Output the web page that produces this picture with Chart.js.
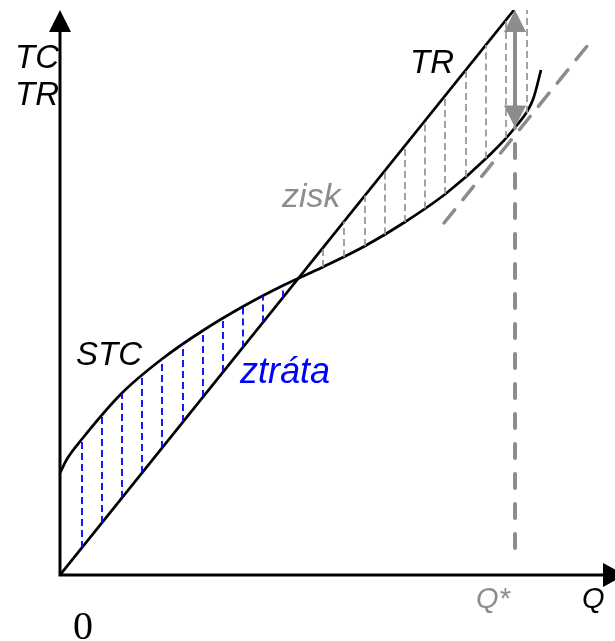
<!DOCTYPE html>
<html>
<head>
<meta charset="utf-8">
<script src="https://cdn.jsdelivr.net/npm/chart.js@4.4.1/dist/chart.umd.min.js"></script>
<style>
  html, body { margin: 0; padding: 0; background: #fff; }
  canvas { display: block; }
</style>
</head>
<body>
<canvas id="chart" width="615" height="641"></canvas>
<script>
"use strict";

// quantity / cost values
var Q_MAX = 11.1;
var C_MAX = 11.3;
var Q_STAR = 9.1;

var trQ = [0, 9.08];
var trC = [0, 11.3];

var stcQ = [0, 0.14, 0.44, 1.24, 2.04, 2.86, 3.66, 4.46, 5.26, 6.10, 6.90, 7.72, 8.54, 9.10, 9.46, 9.62];
var stcC = [2.04, 2.32, 2.72, 3.64, 4.32, 4.89, 5.37, 5.79, 6.16, 6.58, 7.06, 7.63, 8.35, 8.95, 9.51, 10.10];

var tangentQ = [7.68, 10.64];
var tangentC = [7.04, 10.70];

var qStarLineC = [0.54, 8.95];
var qStarArrowC = [11.3, 8.95];

// loss hatching (STC above TR)
var lossQ = [0.44, 0.84, 1.24, 1.64, 2.04, 2.46, 2.86, 3.26, 3.66, 4.06, 4.46];
var lossTop = [2.72, 3.20, 3.64, 4.00, 4.32, 4.62, 4.89, 5.14, 5.37, 5.59, 5.79];
var lossBottom = [0.54, 1.04, 1.54, 2.04, 2.54, 3.06, 3.56, 4.06, 4.55, 5.05, 5.55];

// profit hatching (TR above STC)
var profitQ = [5.26, 5.68, 6.10, 6.50, 6.90, 7.30, 7.70, 8.12, 8.52, 8.92, 9.34];
var profitTop = [6.54, 7.07, 7.59, 8.09, 8.58, 9.08, 9.58, 10.10, 10.60, 11.10, 11.30];
var profitBottom = [6.16, 6.36, 6.58, 6.81, 7.06, 7.33, 7.62, 7.96, 8.33, 8.74, 9.24];

var BLACK = "#000000";
var GRAY = "#8c8c8c";
var HATCH_GRAY = "#999999";
var BLUE = "#0000ff";
var SANS = "'Liberation Sans', Arial, sans-serif";

var labels = [
    { text: "TC", q: -0.90, c: 10.14, color: BLACK, font: "italic 33px " + SANS },
    { text: "TR", q: -0.90, c: 9.40, color: BLACK, font: "italic 33px " + SANS },
    { text: "TR", q: 7.00, c: 10.04, color: BLACK, font: "italic 33px " + SANS },
    { text: "STC", q: 0.32, c: 4.20, color: BLACK, font: "italic 33px " + SANS },
    { text: "ztráta", q: 3.60, c: 3.84, color: BLUE, font: "italic 36px " + SANS },
    { text: "zisk", q: 4.44, c: 7.36, color: GRAY, font: "italic 34px " + SANS },
    { text: "0", q: 0.26, c: -1.28, color: BLACK, font: "40px 'Liberation Serif', 'Times New Roman', serif" },
    { text: "Q*", q: 8.32, c: -0.66, color: GRAY, font: "italic 29px " + SANS },
    { text: "Q", q: 10.44, c: -0.66, color: BLACK, font: "italic 29px " + SANS }
];

function points(xs, ys) {
    var out = [];
    for (var i = 0; i < xs.length; i++) {
        out.push({ x: xs[i], y: ys[i] });
    }
    return out;
}

function hatch(xs, lows, highs) {
    var out = [];
    for (var i = 0; i < xs.length; i++) {
        out.push({ x: xs[i], y: lows[i] });
        out.push({ x: xs[i], y: highs[i] });
        out.push({ x: xs[i], y: null });
    }
    return out;
}

function lineSet(data, color, width, dash, extra) {
    var ds = {
        data: data,
        showLine: true,
        borderColor: color,
        borderWidth: width,
        borderDash: dash || [],
        pointRadius: 0,
        fill: false,
        spanGaps: false
    };
    for (var k in extra) {
        ds[k] = extra[k];
    }
    return ds;
}

function triangle(ctx, tipX, tipY, baseX1, baseY1, baseX2, baseY2) {
    ctx.beginPath();
    ctx.moveTo(tipX, tipY);
    ctx.lineTo(baseX1, baseY1);
    ctx.lineTo(baseX2, baseY2);
    ctx.closePath();
    ctx.fill();
}

var sketchPlugin = {
    id: "sketch",
    afterDatasetsDraw: function(chart) {
        var ctx = chart.ctx;
        var xs = chart.scales.x;
        var ys = chart.scales.y;
        var x0 = xs.getPixelForValue(0);
        var y0 = ys.getPixelForValue(0);
        var top = ys.getPixelForValue(C_MAX);
        var right = chart.width;

        ctx.save();

        // axes
        ctx.strokeStyle = BLACK;
        ctx.fillStyle = BLACK;
        ctx.lineWidth = 3;
        ctx.beginPath();
        ctx.moveTo(x0, top + 10);
        ctx.lineTo(x0, y0);
        ctx.lineTo(right - 8, y0);
        ctx.stroke();
        triangle(ctx, x0, top, x0 - 11, top + 22, x0 + 11, top + 22);
        triangle(ctx, right + 10, y0, right - 12, y0 - 12, right - 12, y0 + 12);

        // double arrow at Q*
        var ax = xs.getPixelForValue(Q_STAR);
        var aTop = ys.getPixelForValue(qStarArrowC[0]);
        var aBot = ys.getPixelForValue(qStarArrowC[1]);
        ctx.strokeStyle = GRAY;
        ctx.fillStyle = GRAY;
        ctx.lineWidth = 4;
        ctx.beginPath();
        ctx.moveTo(ax, aTop + 20);
        ctx.lineTo(ax, aBot - 20);
        ctx.stroke();
        triangle(ctx, ax, aTop, ax - 11, aTop + 22, ax + 11, aTop + 22);
        triangle(ctx, ax, aBot, ax - 11, aBot - 22, ax + 11, aBot - 22);

        // labels
        ctx.textAlign = "left";
        ctx.textBaseline = "alphabetic";
        for (var i = 0; i < labels.length; i++) {
            var l = labels[i];
            ctx.font = l.font;
            ctx.fillStyle = l.color;
            ctx.fillText(l.text, xs.getPixelForValue(l.q), ys.getPixelForValue(l.c));
        }
        ctx.restore();
    }
};

new Chart(document.getElementById("chart"), {
    type: "scatter",
    data: {
        datasets: [
            lineSet(hatch(lossQ, lossBottom, lossTop), BLUE, 1.8, [7, 4]),
            lineSet(hatch(profitQ, profitBottom, profitTop), HATCH_GRAY, 1.8, [7, 4]),
            lineSet(points(tangentQ, tangentC), GRAY, 3.5, [17, 13], { borderCapStyle: "round" }),
            lineSet(points([Q_STAR, Q_STAR], qStarLineC), GRAY, 4, [14, 16], { borderCapStyle: "round" }),
            lineSet(points(trQ, trC), BLACK, 2.7),
            lineSet(points(stcQ, stcC), BLACK, 2.7, null, { cubicInterpolationMode: "monotone" })
        ]
    },
    options: {
        responsive: false,
        animation: false,
        layout: { padding: { left: 60, right: 0, top: 10, bottom: 66 } },
        scales: {
            x: { type: "linear", min: 0, max: Q_MAX, display: false },
            y: { type: "linear", min: 0, max: C_MAX, display: false }
        },
        plugins: {
            legend: { display: false },
            tooltip: { enabled: false }
        }
    },
    plugins: [sketchPlugin]
});
</script>
</body>
</html>
